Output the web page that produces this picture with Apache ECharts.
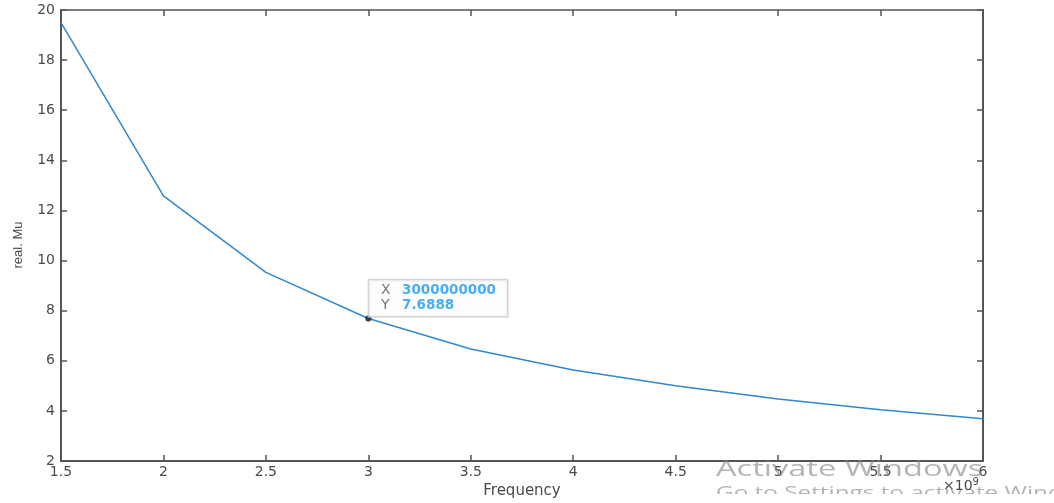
<!DOCTYPE html>
<html>
<head>
<meta charset="utf-8">
<script src="https://cdn.jsdelivr.net/npm/echarts@6/dist/echarts.min.js"></script>
<style>
html,body{margin:0;padding:0;background:#fff;}
#c{width:1054px;height:503px;}
</style>
</head>
<body>
<div id="c"></div>
<script>
const frequency = [1.5e9, 2.0e9, 2.5e9, 3.0e9, 3.5e9, 4.0e9, 4.5e9, 5.0e9, 5.5e9, 6.0e9];
const realMu = [19.50, 12.58, 9.53, 7.6888, 6.47, 5.63, 5.00, 4.47, 4.05, 3.69];
const tipX = 3000000000;
const tipY = 7.6888;
const xTickLabels = ['1.5','2','2.5','3','3.5','4','4.5','5','5.5','6'];
const yTicks = [2,4,6,8,10,12,14,16,18,20];

const axisColor = '#555';
const labelColor = '#4a4a4a';
const font = 'DejaVu Sans, sans-serif';

const chart = echarts.init(document.getElementById('c'));
const lineData = frequency.map((f, i) => [f, realMu[i]]);

chart.setOption({
  animation: false,
  backgroundColor: '#fff',
  grid: {left: 61, top: 10, right: 71, bottom: 42, show: false, containLabel: false, outerBoundsMode: 'none'},
  xAxis: [{
    type: 'value', min: 1.5e9, max: 6e9, interval: 0.5e9,
    name: 'Frequency', nameLocation: 'middle', nameGap: 19,
    nameTextStyle: {color: labelColor, fontSize: 15, fontFamily: font},
    axisLine: {show: true, onZero: false, lineStyle: {color: axisColor, width: 2}},
    axisTick: {show: true, inside: true, length: 6, lineStyle: {color: axisColor, width: 1.5}},
    axisLabel: {color: labelColor, fontSize: 14, fontFamily: font, margin: 4,
      formatter: v => xTickLabels[Math.round((v - 1.5e9) / 0.5e9)] || ''},
    splitLine: {show: false}
  }, {
    type: 'value', position: 'top', min: 1.5e9, max: 6e9, interval: 0.5e9,
    axisLine: {show: true, onZero: false, lineStyle: {color: axisColor, width: 1.5}},
    axisTick: {show: true, inside: true, length: 6, lineStyle: {color: axisColor, width: 1.5}},
    axisLabel: {show: false}, splitLine: {show: false}
  }],
  yAxis: [{
    type: 'value', min: 2, max: 20, interval: 2,
    axisLine: {show: true, onZero: false, lineStyle: {color: axisColor, width: 2}},
    axisTick: {show: true, inside: true, length: 6, lineStyle: {color: axisColor, width: 1.5}},
    axisLabel: {color: labelColor, fontSize: 14, fontFamily: font, margin: 6,
      formatter: v => yTicks.includes(v) ? String(v) : ''},
    splitLine: {show: false}
  }, {
    type: 'value', position: 'right', min: 2, max: 20, interval: 2,
    axisLine: {show: true, onZero: false, lineStyle: {color: axisColor, width: 2}},
    axisTick: {show: true, inside: true, length: 6, lineStyle: {color: axisColor, width: 1.5}},
    axisLabel: {show: false}, splitLine: {show: false}
  }],
  series: [{
    type: 'line', data: lineData, showSymbol: false, symbol: 'none',
    lineStyle: {color: '#2f88d0', width: 1.5}, silent: true
  }, {
    type: 'scatter', data: [[tipX, tipY]], symbolSize: 6,
    itemStyle: {color: '#1a1a1a', borderColor: '#555', borderWidth: 0.5},
    z: 5,
    label: {
      show: true, position: [4, -35], align: 'left', verticalAlign: 'top',
      backgroundColor: '#fcfcff', borderColor: '#c8c8c8', borderWidth: 1.5,
      padding: [3, 11, 3, 12],
      formatter: p => '{k|X}{v|' + p.value[0].toFixed(0) + '}\n{k|Y}{v|' + p.value[1].toFixed(4) + '}',
      rich: {
        k: {color: '#555', fontSize: 14, fontFamily: font, width: 21, lineHeight: 15},
        v: {color: '#1a9af0', fontSize: 13.5, fontWeight: 'bold', fontFamily: font, lineHeight: 15}
      }
    }
  }],
  graphic: [
    {type: 'text', x: 18, y: 245, rotation: Math.PI / 2, z: 10,
      style: {text: 'real. Mu', fill: labelColor, fontSize: 13,
        fontFamily: 'Liberation Sans Narrow, Liberation Sans, sans-serif',
        align: 'center', verticalAlign: 'middle'}},
    {type: 'text', left: 716, top: 459, z: 1, scaleX: 1.48,
      style: {text: 'Activate Windows', fill: 'rgba(130,130,130,0.6)', fontSize: 22, fontFamily: 'Open Sans, sans-serif'}},
    {type: 'text', left: 716, top: 485, z: 1, scaleX: 1.43,
      style: {text: 'Go to Settings to activate Windows.', fill: 'rgba(130,130,130,0.6)', fontSize: 17, fontFamily: 'Open Sans, sans-serif'}},
    {type: 'rect', shape: {x: 700, y: 494, width: 354, height: 9}, z: 2,
      style: {fill: '#fff'}},
    {type: 'text', left: 943, top: 477, z: 10,
      style: {text: '×10{s|9}', fill: labelColor, fontSize: 14, fontFamily: font,
        rich: {s: {fontSize: 10, verticalAlign: 'top', padding: [0,0,8,0], fill: labelColor, fontFamily: font}}}}
  ]
});
</script>
</body>
</html>
